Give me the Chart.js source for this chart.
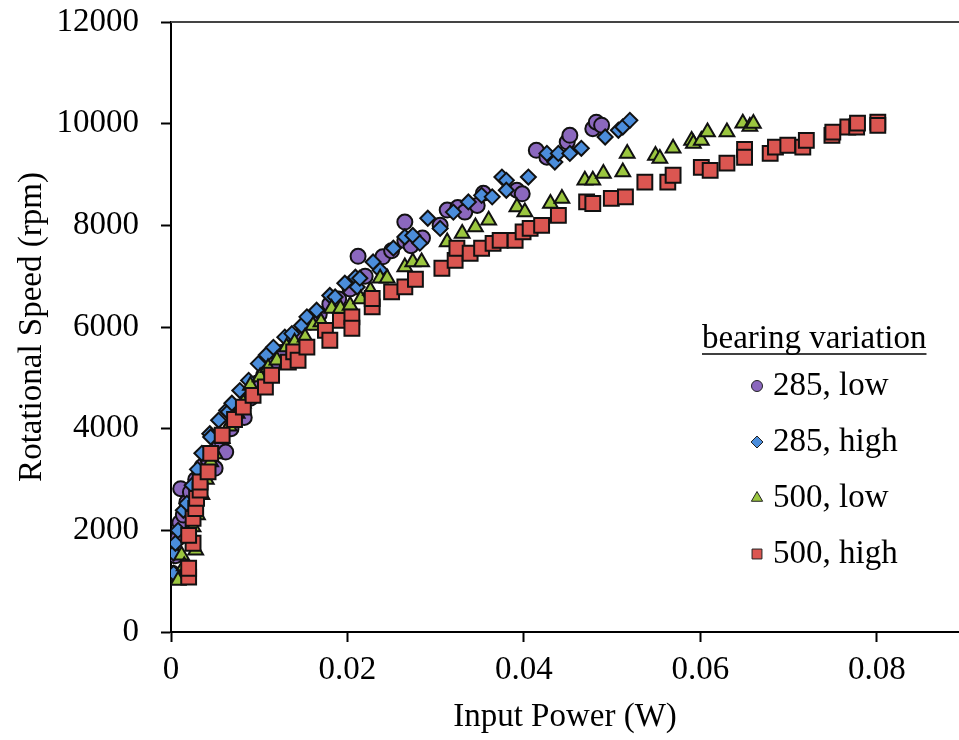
<!DOCTYPE html>
<html lang="en">
<head>
    <meta charset="UTF-8">
    <title>Rotational Speed vs Input Power</title>
    <script src="https://cdn.jsdelivr.net/npm/chart.js"></script>
    <style>
        body { margin: 0; background: #fff; }
        .wrap { width: 959px; height: 740px; position: relative; }
    </style>
</head>
<body>
    <div class="wrap"><canvas id="speedChart"></canvas></div>

    <script>
        // legend / series names
        const seriesNames = ['285, low', '285, high', '500, low', '500, high'];

        // 285, low (circles)
        const lowX285 = [0.0002, 0.0005, 0.0008, 0.001, 0.0011, 0.0014, 0.0018, 0.0022, 0.0028, 0.0035, 0.0042, 0.005, 0.0055, 0.0062, 0.0068, 0.0075, 0.0083, 0.009, 0.0098, 0.0105, 0.0115, 0.0125, 0.0135, 0.0145, 0.0158, 0.0168, 0.018, 0.019, 0.0203, 0.0212, 0.022, 0.024, 0.025, 0.0265, 0.0265, 0.0272, 0.0285, 0.0305, 0.0313, 0.0325, 0.0333, 0.0347, 0.0354, 0.0392, 0.0398, 0.0414, 0.0426, 0.0449, 0.0452, 0.0478, 0.0482, 0.0488];
        const lowY285 = [1150, 1500, 1850, 2150, 2820, 2300, 2550, 2750, 3000, 3250, 3400, 3220, 3700, 3540, 4000, 4250, 4220, 4600, 4900, 5050, 5250, 5500, 5700, 5800, 6100, 6250, 6450, 6550, 6750, 7390, 7000, 7380, 7500, 8065, 7700, 7600, 7750, 8000, 8300, 8350, 8260, 8390, 8630, 8690, 8620, 9475, 9340, 9640, 9770, 9900, 10030, 9970];

        // 285, high (diamonds)
        const highX285 = [0.0003, 0.0003, 0.0005, 0.0008, 0.0014, 0.0018, 0.0024, 0.003, 0.0035, 0.0044, 0.0045, 0.0054, 0.0063, 0.0065, 0.0069, 0.0078, 0.0088, 0.0099, 0.0108, 0.0116, 0.0129, 0.0137, 0.0148, 0.0154, 0.0165, 0.018, 0.0186, 0.0197, 0.0209, 0.0211, 0.0214, 0.0229, 0.0237, 0.0252, 0.0265, 0.0274, 0.0282, 0.0291, 0.0305, 0.032, 0.0337, 0.0352, 0.0364, 0.0375, 0.038, 0.038, 0.0405, 0.0426, 0.0435, 0.0439, 0.0452, 0.0465, 0.0492, 0.0507, 0.0512, 0.052];
        const highY285 = [1155, 1550, 1745, 2000, 2394, 2530, 2886, 3200, 3515, 3900, 3836, 4165, 4360, 4330, 4500, 4750, 4950, 5280, 5450, 5600, 5800, 5870, 6030, 6200, 6330, 6620, 6590, 6860, 6980, 6787, 6960, 7280, 7115, 7550, 7770, 7800, 7650, 8140, 7940, 8260, 8460, 8590, 8560, 8950, 8885, 8690, 8950, 9415, 9245, 9415, 9415, 9515, 9737, 9870, 9935, 10065];

        // 500, low (triangles)
        const lowX500 = [0.0008, 0.0012, 0.0015, 0.0025, 0.0028, 0.003, 0.0035, 0.004, 0.0045, 0.005, 0.0058, 0.0066, 0.0075, 0.0082, 0.009, 0.0101, 0.011, 0.012, 0.0131, 0.014, 0.0152, 0.0161, 0.017, 0.0182, 0.0192, 0.0203, 0.0215, 0.0226, 0.0237, 0.0245, 0.0265, 0.0274, 0.0284, 0.0313, 0.033, 0.0345, 0.036, 0.0392, 0.0401, 0.043, 0.0443, 0.0469, 0.0478, 0.049, 0.0512, 0.0517, 0.0549, 0.0554, 0.0569, 0.059, 0.0592, 0.0601, 0.0608, 0.063, 0.0648, 0.0656, 0.066];
        const lowY500 = [1015, 1510, 1300, 2065, 1610, 2300, 2700, 3000, 3345, 3500, 3800, 4050, 4300, 4500, 4850, 5015, 5200, 5345, 5605, 5700, 5800, 6030, 6100, 6365, 6365, 6425, 6550, 6720, 6960, 6960, 7180, 7280, 7280, 7670, 7840, 7965, 8100, 8360, 8260, 8430, 8530, 8885, 8885, 9020, 9050, 9415, 9375, 9315, 9515, 9670, 9610, 9670, 9835, 9835, 10010, 9945, 10005];

        // 500, high (squares)
        const highX500 = [0.002, 0.002, 0.0025, 0.002, 0.0025, 0.0028, 0.0029, 0.0033, 0.0033, 0.0042, 0.0045, 0.0058, 0.0072, 0.0082, 0.0093, 0.0107, 0.0114, 0.0133, 0.0139, 0.0144, 0.0154, 0.0175, 0.018, 0.0192, 0.0205, 0.0205, 0.0228, 0.0228, 0.025, 0.0265, 0.0277, 0.0307, 0.0322, 0.0324, 0.0339, 0.0352, 0.0365, 0.0373, 0.039, 0.0399, 0.0407, 0.042, 0.0439, 0.0471, 0.0478, 0.0499, 0.0515, 0.0537, 0.0563, 0.0569, 0.0601, 0.0611, 0.063, 0.065, 0.065, 0.0679, 0.0685, 0.0699, 0.0716, 0.072, 0.0749, 0.075, 0.0767, 0.0777, 0.0778, 0.0801, 0.0801];
        const highY500 = [1080, 1255, 1745, 1900, 2235, 2430, 2630, 2790, 2950, 3150, 3515, 3870, 4180, 4425, 4655, 4820, 5050, 5310, 5510, 5345, 5605, 5935, 5740, 6130, 6200, 5975, 6395, 6560, 6690, 6790, 6940, 7155, 7310, 7550, 7450, 7550, 7645, 7705, 7705, 7870, 7940, 8000, 8195, 8460, 8430, 8530, 8560, 8850, 8850, 8985, 9140, 9080, 9225, 9495, 9340, 9415, 9540, 9575, 9540, 9670, 9770, 9835, 9935, 9935, 10010, 10030, 9967];

        // axis ticks
        const xTicks = [0, 0.02, 0.04, 0.06, 0.08];
        const yTicks = [0, 2000, 4000, 6000, 8000, 10000, 12000];

        const serif = 'Liberation Serif, "Times New Roman", serif';
        const toPoints = (xs, ys) => xs.map((x, i) => ({ x: x, y: ys[i] }));

        const styles = [
            { shape: 'circle', color: '#8B68BE', r: 7.5, lr: 5.5 },
            { shape: 'rectRot', color: '#4B8DDB', r: 7.5, lr: 6 },
            { shape: 'triangle', color: '#9BC63F', r: 8.5, lr: 6.5 },
            { shape: 'rect', color: '#DB5651', r: 10.5, lr: 7 }
        ];
        const seriesData = [
            toPoints(lowX285, lowY285),
            toPoints(highX285, highY285),
            toPoints(lowX500, lowY500),
            toPoints(highX500, highY500)
        ];

        // legend marker: same shapes as the chart, thin outline
        function legendMarker(ctx, st, x, y) {
            ctx.fillStyle = st.color;
            ctx.strokeStyle = '#222';
            ctx.lineWidth = 1;
            Chart.helpers.drawPoint(ctx, { pointStyle: st.shape, radius: st.lr, rotation: 0, borderWidth: 1 }, x, y);
        }

        // custom legend + top frame line
        const frameAndLegend = {
            id: 'frameAndLegend',
            afterDatasetsDraw(chart) {
                const { ctx, chartArea: a } = chart;
                ctx.save();
                ctx.strokeStyle = '#444';
                ctx.lineWidth = 2;
                ctx.beginPath();
                ctx.moveTo(a.left, a.top);
                ctx.lineTo(a.right, a.top);
                ctx.stroke();

                // legend title, underlined
                ctx.fillStyle = '#000';
                ctx.font = '33px ' + serif;
                ctx.textAlign = 'left';
                ctx.textBaseline = 'alphabetic';
                const title = 'bearing variation';
                ctx.fillText(title, 702, 348);
                const tw = ctx.measureText(title).width;
                ctx.lineWidth = 1.5;
                ctx.strokeStyle = '#000';
                ctx.beginPath();
                ctx.moveTo(702, 354);
                ctx.lineTo(702 + tw, 354);
                ctx.stroke();

                ctx.textBaseline = 'middle';
                seriesNames.forEach((name, i) => {
                    const y = 386 + i * 56;
                    legendMarker(ctx, styles[i], 757, y);
                    ctx.fillStyle = '#000';
                    ctx.fillText(name, 773, y);
                });
                ctx.restore();
            }
        };

        const ctx = document.getElementById('speedChart').getContext('2d');
        const speedChart = new Chart(ctx, {
            type: 'scatter',
            data: {
                datasets: seriesData.map((pts, i) => ({
                    label: seriesNames[i],
                    data: pts,
                    pointStyle: styles[i].shape,
                    pointRadius: styles[i].r,
                    pointHoverRadius: styles[i].r,
                    backgroundColor: styles[i].color,
                    borderColor: '#111',
                    borderWidth: 2,
                    order: 3 - i
                }))
            },
            options: {
                responsive: true,
                maintainAspectRatio: false,
                animation: false,
                events: [],
                layout: { autoPadding: false, padding: { top: 22, right: 0, left: 0, bottom: 0 } },
                plugins: {
                    legend: { display: false },
                    tooltip: { enabled: false }
                },
                scales: {
                    x: {
                        type: 'linear',
                        min: 0,
                        max: 0.0893,
                        afterFit: s => { s.height = 108; s.paddingLeft = 0; s.paddingRight = 0; },
                        afterBuildTicks: s => { s.ticks = xTicks.map(v => ({ value: v })); },
                        ticks: {
                            color: '#000',
                            padding: 9,
                            font: { family: serif, size: 33 },
                            callback: v => (v === 0 ? '0' : v.toFixed(2))
                        },
                        grid: { drawOnChartArea: false, tickLength: 10, tickWidth: 2, tickColor: '#000' },
                        border: { color: '#000', width: 2 },
                        title: {
                            display: true,
                            text: 'Input Power (W)',
                            color: '#000',
                            font: { family: serif, size: 33 },
                            padding: { top: 0, bottom: 3 }
                        }
                    },
                    y: {
                        min: 0,
                        max: 12000,
                        afterFit: s => { s.width = 171; s.paddingTop = 0; s.paddingBottom = 0; },
                        afterBuildTicks: s => { s.ticks = yTicks.map(v => ({ value: v })); },
                        ticks: {
                            color: '#000',
                            padding: 22,
                            font: { family: serif, size: 33 },
                            callback: v => String(v)
                        },
                        grid: { drawOnChartArea: false, tickLength: 10, tickWidth: 2, tickColor: '#000' },
                        border: { color: '#000', width: 2 },
                        title: {
                            display: true,
                            text: 'Rotational Speed (rpm)',
                            color: '#000',
                            font: { family: serif, size: 33 },
                            padding: { top: 13, bottom: 0 }
                        }
                    }
                }
            },
            plugins: [frameAndLegend]
        });
    </script>
</body>
</html>
